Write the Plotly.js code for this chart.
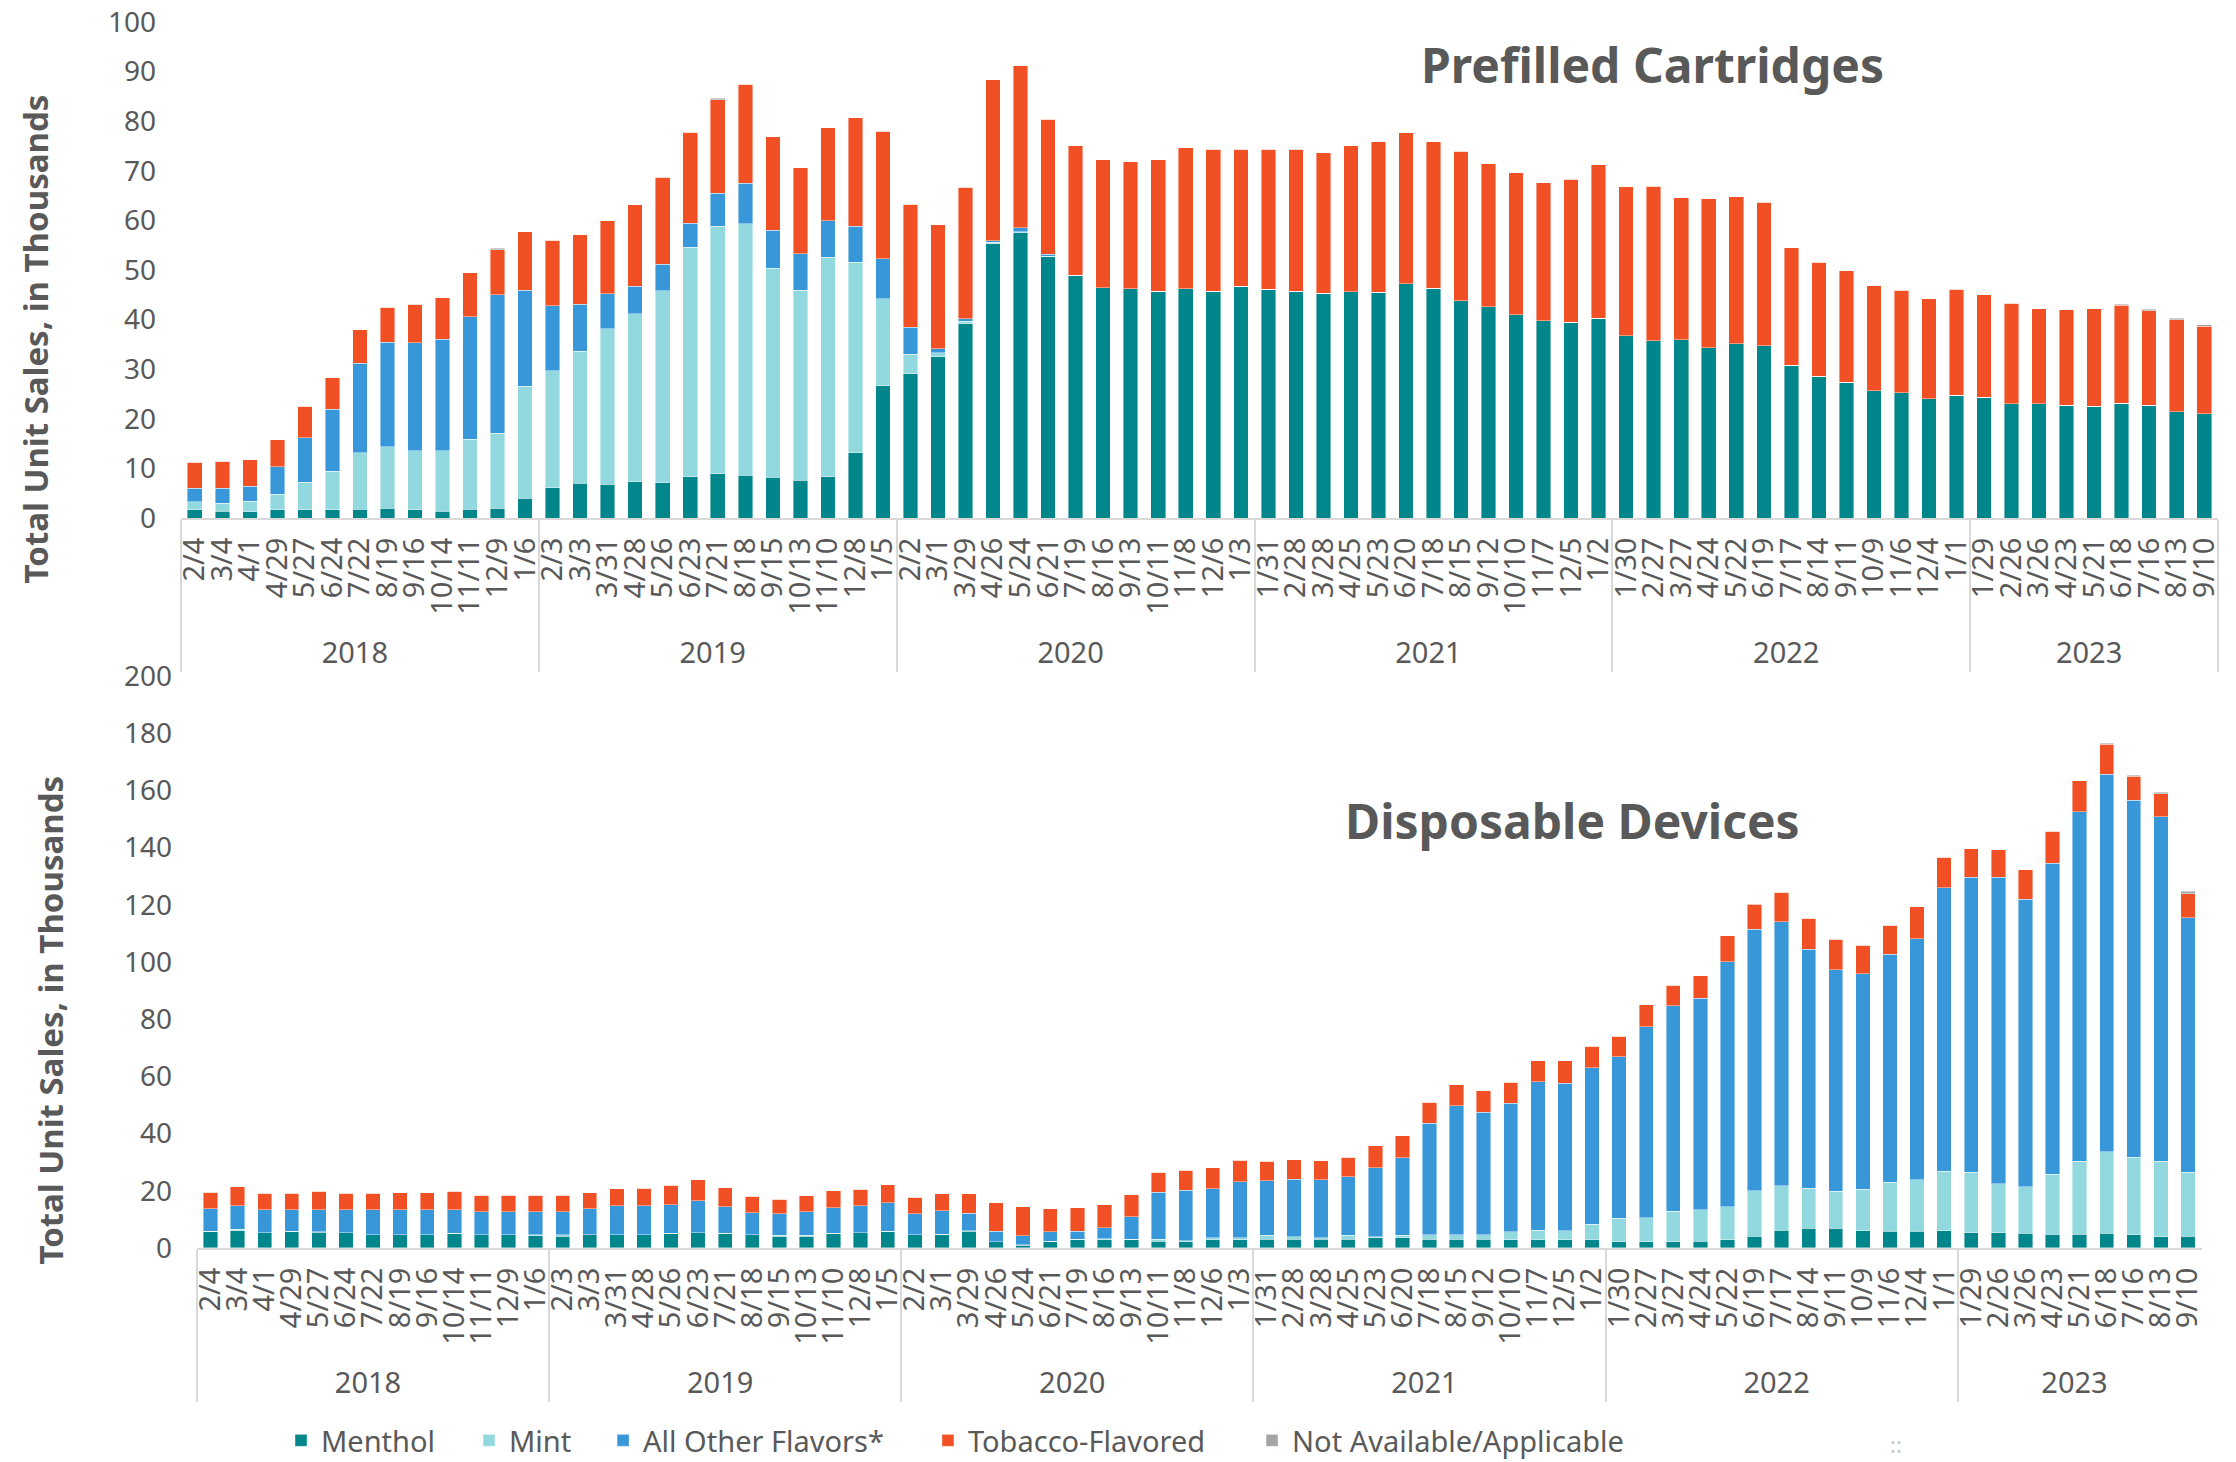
<!DOCTYPE html>
<html>
<head>
<meta charset="utf-8">
<script src="https://cdn.plot.ly/plotly-3.0.1.min.js"></script>
<style>html,body{margin:0;padding:0;background:#fff;}#chart{width:2236px;height:1462px;}</style>
</head>
<body>
<div id="chart"></div>
<script>
// Year groups and 4-week period end dates
const yearLabels = ['2018', '2019', '2020', '2021', '2022', '2023'];
const yearCounts = [13, 13, 13, 13, 13, 9];
const dates = ['2/4','3/4','4/1','4/29','5/27','6/24','7/22','8/19','9/16','10/14','11/11','12/9','1/6',
  '2/3','3/3','3/31','4/28','5/26','6/23','7/21','8/18','9/15','10/13','11/10','12/8','1/5',
  '2/2','3/1','3/29','4/26','5/24','6/21','7/19','8/16','9/13','10/11','11/8','12/6','1/3',
  '1/31','2/28','3/28','4/25','5/23','6/20','7/18','8/15','9/12','10/10','11/7','12/5','1/2',
  '1/30','2/27','3/27','4/24','5/22','6/19','7/17','8/14','9/11','10/9','11/6','12/4','1/1',
  '1/29','2/26','3/26','4/23','5/21','6/18','7/16','8/13','9/10'];

const seriesNames = ['Menthol', 'Mint', 'All Other Flavors*', 'Tobacco-Flavored', 'Not Available/Applicable'];

// Prefilled cartridges (thousands of units)
const cartMenthol = [1.7,1.4,1.3,1.7,1.7,1.7,1.8,2.0,1.7,1.4,1.8,2.0,4.0,
  6.1,7.0,6.8,7.3,7.1,8.3,8.9,8.6,8.2,7.6,8.3,13.2,26.7,
  29.1,32.5,39.2,55.3,57.5,52.8,48.9,46.4,46.2,45.7,46.2,45.7,46.7,
  46.1,45.7,45.3,45.6,45.5,47.2,46.3,43.8,42.6,41.0,39.8,39.5,40.3,
  36.8,35.7,35.9,34.3,35.1,34.7,30.8,28.6,27.4,25.7,25.3,24.0,24.8,
  24.4,23.0,23.0,22.7,22.5,23.1,22.7,21.4,21.0];
const cartMint = [1.6,1.6,2.1,3.1,5.5,7.7,11.4,12.4,11.9,12.2,14.1,15.1,22.6,
  23.6,26.6,31.4,33.9,38.7,46.3,49.9,50.7,42.2,38.3,44.3,38.4,17.5,
  3.9,0.8,0.5,0.3,0.2,0,0,0,0,0,0,0,0,
  0,0,0,0,0,0,0,0,0,0,0,0,0,
  0,0,0,0,0,0,0,0,0,0,0,0,0,
  0,0,0,0,0,0,0,0,0];
const cartOther = [2.7,3.0,3.0,5.5,9.0,12.5,18.0,21.0,21.7,22.4,24.7,27.9,19.3,
  13.1,9.5,7.0,5.5,5.4,4.8,6.7,8.2,7.6,7.4,7.3,7.2,8.1,
  5.5,0.8,0.5,0.3,0.8,0.4,0,0,0,0,0,0,0,
  0,0,0,0,0,0,0,0,0,0,0,0,0,
  0,0,0,0,0,0,0,0,0,0,0,0,0,
  0,0,0,0,0,0,0,0,0];
const cartTobacco = [5.2,5.4,5.4,5.5,6.3,6.4,6.8,7.1,7.8,8.4,8.9,9.1,11.8,
  13.2,14.0,14.7,16.5,17.5,18.4,18.8,20.0,18.9,17.3,18.8,21.9,25.7,
  24.8,25.0,26.5,32.5,32.7,27.2,26.2,25.8,25.6,26.5,28.4,28.6,27.6,
  28.2,28.6,28.3,29.5,30.4,30.5,29.6,30.1,28.8,28.6,27.8,28.8,30.9,
  30.0,31.2,28.7,30.1,29.7,29.0,23.7,23.0,22.5,21.1,20.6,20.2,21.3,
  20.6,20.3,19.2,19.3,19.7,19.8,19.1,18.6,17.7];
const cartNA = [0,0,0,0,0,0,0,0,0,0,0,0.3,0,
  0,0,0,0,0,0,0.3,0,0,0,0,0,0,
  0,0,0,0,0,0,0,0,0,0,0,0,0,
  0,0,0,0,0,0,0,0,0,0,0,0,0,
  0,0,0,0,0,0,0,0,0,0,0,0,0,
  0,0,0,0,0,0.2,0.3,0.3,0.3];

// Disposable devices (thousands of units)
const dispMenthol = [5.7,6.1,5.3,5.7,5.5,5.3,4.6,4.6,4.6,5.0,4.6,4.6,4.3,
  4.1,4.6,4.6,4.6,5.0,5.3,5.0,4.6,4.1,4.1,5.0,5.3,5.7,
  4.6,4.7,5.9,2.1,1.0,2.1,2.8,2.9,2.9,2.3,2.2,2.8,2.9,
  3.0,3.0,3.0,3.0,3.5,3.6,3.0,3.0,3.0,2.8,2.8,2.8,2.8,
  2.2,2.2,2.2,2.3,2.8,4.1,6.2,6.9,6.9,6.1,5.9,5.8,6.1,
  5.4,5.4,5.1,4.8,4.8,5.1,4.7,4.0,4.1];
const dispMint = [0.2,0.5,0.1,0.1,0.1,0.1,0.1,0.1,0.1,0.1,0.1,0.1,0.3,
  0.6,0.1,0.1,0.1,0.1,0.1,0.1,0.1,0.3,0.4,0.1,0.1,0.2,
  0.1,0.1,0.1,0.1,0.1,0.3,0.2,0.4,0.2,0.7,0.4,0.7,0.7,
  1.4,0.9,0.5,1.4,0.5,0.8,1.7,1.7,1.7,2.9,3.4,3.3,5.5,
  8.2,8.4,10.7,11.0,11.6,15.9,15.6,14.0,12.9,14.4,17.0,18.1,20.7,
  21.0,17.1,16.3,20.9,25.5,28.6,27.1,26.3,22.3];
const dispOther = [7.8,8.2,8.0,7.6,7.8,7.9,8.6,8.6,8.7,8.3,8.0,7.9,8.1,
  8.0,9.0,10.0,10.0,10.1,11.2,9.3,7.6,7.5,8.2,8.9,9.3,10.0,
  7.2,8.2,6.2,3.6,3.2,3.3,2.9,3.7,7.8,16.5,17.6,17.2,19.6,
  19.1,20.1,20.4,20.5,24.1,27.1,39.0,45.1,42.8,44.9,52.0,51.5,54.7,
  56.4,66.8,71.8,74.1,85.7,91.5,92.2,83.6,77.4,75.3,79.8,84.2,99.1,
  103.2,107.1,100.6,108.9,122.2,132.0,124.8,120.4,89.0];
const dispTobacco = [5.8,6.6,5.8,5.8,6.4,5.8,5.9,6.1,6.0,6.4,5.8,5.9,5.8,
  5.8,5.7,6.0,6.2,6.8,7.2,6.6,5.8,5.2,5.5,6.0,5.9,6.2,
  5.9,5.9,6.7,10.1,10.1,8.1,8.2,8.2,7.8,6.9,7.0,7.4,7.5,
  6.9,6.8,6.6,6.9,7.7,7.8,7.3,7.3,7.5,7.3,7.2,7.8,7.6,
  7.3,7.6,7.1,7.7,9.1,8.6,10.3,10.8,10.7,10.1,10.2,11.2,10.7,
  10.0,9.7,10.3,11.1,10.9,10.4,8.3,8.1,8.4];
const dispNA = [0,0,0,0,0,0,0,0,0,0,0,0,0,
  0,0,0,0,0,0,0,0,0,0,0,0,0,
  0,0,0,0,0,0,0,0,0,0,0,0,0,
  0,0,0,0,0,0,0,0,0,0,0,0,0,
  0,0,0,0,0,0.3,0,0,0,0,0,0,0,
  0,0,0,0,0,0.3,0.4,0.5,1.0];

const colors = ['#01868c', '#91d8df', '#3797d8', '#f05023', '#a5a5a5'];

// Build the two-level category arrays
const years = [];
yearLabels.forEach((y, i) => { for (let k = 0; k < yearCounts[i]; k++) years.push(y); });
const xcat = [years, dates];

const cartSeries = [cartMenthol, cartMint, cartOther, cartTobacco, cartNA];
const dispSeries = [dispMenthol, dispMint, dispOther, dispTobacco, dispNA];
const legendIds = ['legend', 'legend2', 'legend3', 'legend4', 'legend5'];

const traces = [];
cartSeries.forEach((vals, i) => {
  traces.push({
    type: 'bar', x: xcat, y: vals, name: seriesNames[i],
    xaxis: 'x', yaxis: 'y', legendgroup: seriesNames[i], showlegend: true, legend: legendIds[i],
    marker: {color: colors[i], line: {width: 0.6, color: 'rgba(255,255,255,0.7)'}},
    hoverinfo: 'y+name'
  });
});
dispSeries.forEach((vals, i) => {
  traces.push({
    type: 'bar', x: xcat, y: vals, name: seriesNames[i],
    xaxis: 'x2', yaxis: 'y2', legendgroup: seriesNames[i], showlegend: false,
    marker: {color: colors[i], line: {width: 0.6, color: 'rgba(255,255,255,0.7)'}},
    hoverinfo: 'y+name'
  });
});

const gridColor = '#d9d9d9';
const textColor = '#595959';
const xCommon = {
  type: 'multicategory', tickangle: -90, showdividers: true,
  tickmode: 'linear', tick0: 0, dtick: 1,
  dividercolor: gridColor, dividerwidth: 2,
  showline: true, linecolor: gridColor, linewidth: 2,
  ticks: '', showgrid: false, automargin: false, ticklabelstandoff: 6,
  tickfont: {family: 'Noto Sans', size: 29, color: textColor}
};
const yCommon = {
  showgrid: false, zeroline: false, showline: false, ticks: '',
  automargin: false, ticklabelstandoff: 24,
  tickfont: {family: 'Noto Sans', size: 28, color: textColor}
};

// one legend box per series so each entry sits where the original places it
const legendX = [0.0491, 0.1414, 0.2072, 0.3667, 0.5258];
const legendY = -0.157;

const layout = {
  width: 2236, height: 1462,
  margin: {l: 181, r: 18, t: 22, b: 214, autoexpand: false},
  paper_bgcolor: '#ffffff', plot_bgcolor: '#ffffff',
  barmode: 'stack', bargap: 0.47,
  font: {family: 'Noto Sans', color: textColor, size: 28},
  showlegend: true,
  xaxis: Object.assign({}, xCommon, {domain: [0, 1], anchor: 'y'}),
  yaxis: Object.assign({}, yCommon, {domain: [0.5954, 1], range: [0, 100], dtick: 10, anchor: 'x'}),
  xaxis2: Object.assign({}, xCommon, {domain: [0.00785, 0.9919], anchor: 'y2'}),
  yaxis2: Object.assign({}, yCommon, {domain: [0, 0.4666], range: [0, 200], dtick: 20, anchor: 'x2'}),
  annotations: [
    {text: '<b>Prefilled Cartridges</b>', xref: 'paper', yref: 'paper', x: 0.7226, y: 0.965,
     xanchor: 'center', yanchor: 'middle', showarrow: false,
     font: {family: 'Noto Sans', size: 48, color: textColor}},
    {text: '<b>Disposable Devices</b>', xref: 'paper', yref: 'paper', x: 0.683, y: 0.349,
     xanchor: 'center', yanchor: 'middle', showarrow: false,
     font: {family: 'Noto Sans', size: 48, color: textColor}},
    {text: '<b>Total Unit Sales, in Thousands</b>', xref: 'paper', yref: 'paper', x: -0.0715, y: 0.7414,
     xanchor: 'center', yanchor: 'middle', textangle: -90, showarrow: false,
     font: {family: 'Noto Sans', size: 33, color: textColor}},
    {text: '<b>Total Unit Sales, in Thousands</b>', xref: 'paper', yref: 'paper', x: -0.064, y: 0.186,
     xanchor: 'center', yanchor: 'middle', textangle: -90, showarrow: false,
     font: {family: 'Noto Sans', size: 33, color: textColor}},
    {text: '::', xref: 'paper', yref: 'paper', x: 0.842, y: -0.16,
     xanchor: 'center', yanchor: 'middle', showarrow: false,
     font: {family: 'Noto Sans', size: 22, color: '#c8c8c8'}}
  ]
};
legendIds.forEach((id, i) => {
  layout[id] = {orientation: 'h', x: legendX[i], xanchor: 'left', y: legendY, yanchor: 'middle',
                borderwidth: 0, font: {family: 'Noto Sans', size: 29, color: textColor},
                bgcolor: 'rgba(0,0,0,0)'};
});

Plotly.newPlot('chart', traces, layout, {displayModeBar: false, staticPlot: true});
</script>
</body>
</html>
